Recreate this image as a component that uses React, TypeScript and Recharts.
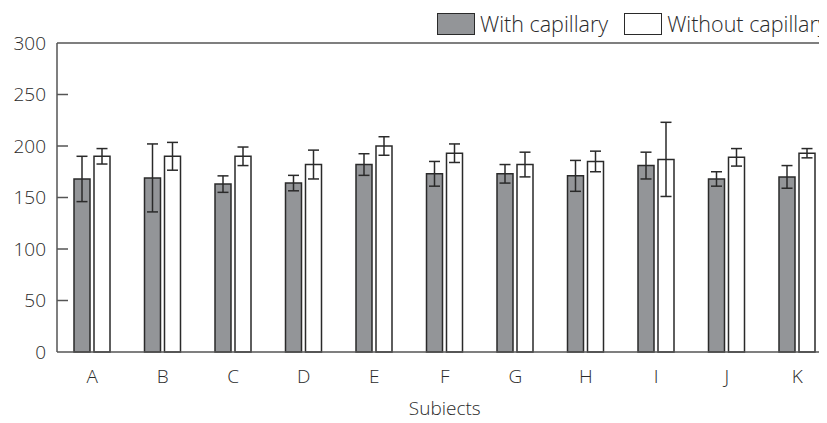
import { BarChart, Bar, XAxis, YAxis, ErrorBar, ReferenceLine, Legend } from 'recharts'

const subjects = ['A', 'B', 'C', 'D', 'E', 'F', 'G', 'H', 'I', 'J', 'K']
const withCapillary = [168, 169, 163, 164, 182, 173, 173, 171, 181, 168, 170]
const withCapillaryErr = [22, 33, 8, 7.5, 10.5, 12, 9, 15, 13, 7, 11]
const withoutCapillary = [190, 190, 190, 182, 200, 193, 182, 185, 187, 189, 193]
const withoutCapillaryErr = [7.5, 13.5, 9, 14, 9, 9, 12, 10, 36, 8.5, 4.5]
const yTicks = [0, 50, 100, 150, 200, 250, 300]

const data = subjects.map((s, i) => ({
  subject: s,
  withCap: withCapillary[i],
  withCapErr: withCapillaryErr[i],
  withoutCap: withoutCapillary[i],
  withoutCapErr: withoutCapillaryErr[i],
}))

const FONT = '"Open Sans", "Noto Sans", sans-serif'
const GREY = '#939598'
const INK = '#2a2a2a'
const AXIS = '#555'

function YTick(props: any) {
  const { x, y, payload } = props
  const v = payload.value
  return (
    <g>
      <text x={x - 11} y={y} dy="0.35em" textAnchor="end" fontSize={19} fontFamily={FONT} fontWeight={300} fill={INK}>
        {v}
      </text>
      {v !== 0 && v !== 300 && <line x1={x} x2={x + 11} y1={y} y2={y} stroke={AXIS} strokeWidth={1.5} />}
    </g>
  )
}

function AxisTitle(props: any) {
  const vb = props.viewBox || {}
  return (
    <text x={vb.x + vb.width / 2} y={415} textAnchor="middle" fontSize={19} fontFamily={FONT} fontWeight={300} fill={INK}>
      Subjects
    </text>
  )
}

function LegendBox() {
  const item = (label: string, fill: string, gap: number) => (
    <div style={{ display: 'flex', alignItems: 'center', marginRight: gap }}>
      <div style={{ width: 36, height: 20, background: fill, border: `1.5px solid ${INK}`, marginRight: 5 }} />
      <span style={{ fontSize: 21.5, lineHeight: '23px', fontFamily: FONT, fontWeight: 300, color: INK, whiteSpace: 'nowrap' }}>{label}</span>
    </div>
  )
  return (
    <div style={{ display: 'flex' }}>
      {item('With capillary', GREY, 16)}
      {item('Without capillary', '#fff', 0)}
    </div>
  )
}

export default function App() {
  return (
    <div style={{ width: 827, height: 423, margin: -8, overflow: 'hidden', position: 'relative', background: '#fff' }}>
      <BarChart
        width={840}
        height={423}
        data={data}
        margin={{ top: 43, right: 7.5, bottom: 0, left: 0 }}
        barSize={16}
        barGap={4}
      >
        <Legend
          layout="horizontal"
          verticalAlign="middle"
          align="center"
          content={() => <LegendBox />}
          wrapperStyle={{ position: 'absolute', top: 12, left: 437, width: 'auto', height: 'auto' }}
        />
        <XAxis
          dataKey="subject"
          height={71}
          tickLine={false}
          tickSize={0}
          tickMargin={18}
          axisLine={{ stroke: AXIS, strokeWidth: 1.5 }}
          tick={{ fontSize: 19, fontFamily: FONT, fontWeight: 300, fill: INK }}
          label={<AxisTitle />}
        />
        <YAxis
          width={57}
          domain={[0, 300]}
          ticks={yTicks}
          interval={0}
          tickLine={false}
          tickSize={0}
          tickMargin={0}
          axisLine={{ stroke: AXIS, strokeWidth: 1.5 }}
          tick={<YTick />}
        />
        <ReferenceLine y={300} stroke={AXIS} strokeWidth={1.5} />
        <Bar dataKey="withCap" fill={GREY} stroke={INK} strokeWidth={1.5} isAnimationActive={false}>
          <ErrorBar dataKey="withCapErr" width={5.5} stroke={INK} strokeWidth={1.5} />
        </Bar>
        <Bar dataKey="withoutCap" fill="#fff" stroke={INK} strokeWidth={1.5} isAnimationActive={false}>
          <ErrorBar dataKey="withoutCapErr" width={5.5} stroke={INK} strokeWidth={1.5} />
        </Bar>
      </BarChart>
    </div>
  )
}
